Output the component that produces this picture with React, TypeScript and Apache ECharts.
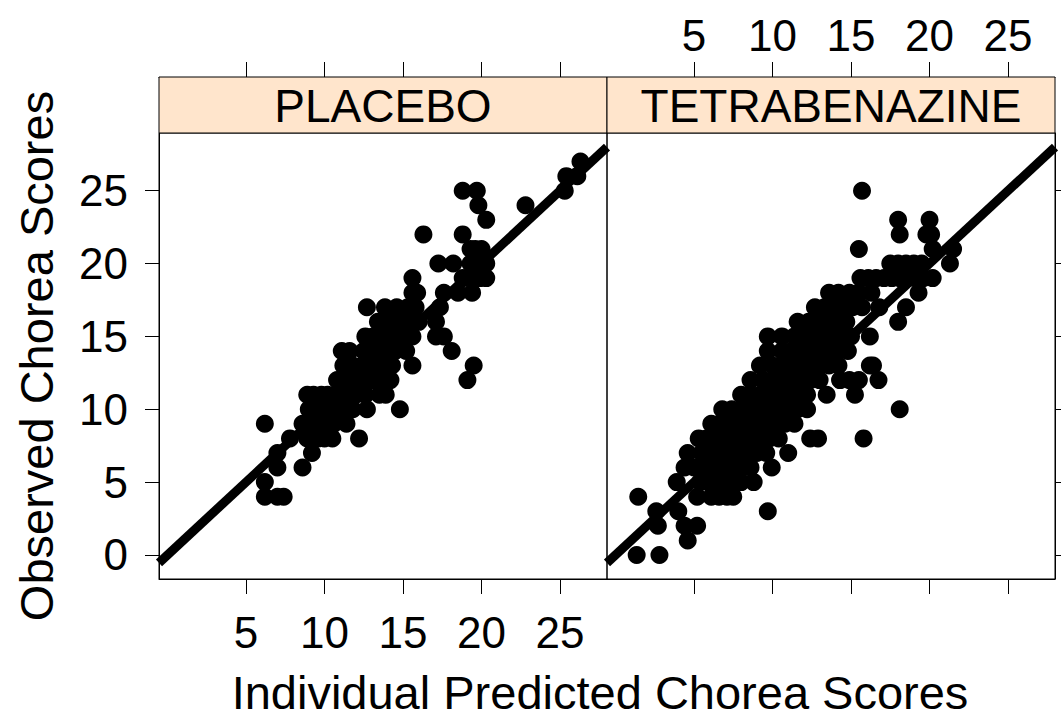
import React, { useEffect, useRef } from "react";
import * as echarts from "echarts";

// Tick positions shared by both panels
const xTicks = [5, 10, 15, 20, 25];
const yTicks = [0, 5, 10, 15, 20, 25];

// Axis limits (lattice-style padded ranges)
const xLimits = [-0.54, 27.99];
const yLimits = [-1.65, 28.96];

const panelNames = ["PLACEBO", "TETRABENAZINE"];

// Line of identity (observed = predicted), spanning the x range
const identityLine: [number, number][] = [
  [xLimits[0], xLimits[0]],
  [xLimits[1], xLimits[1]],
];

// [individual predicted, observed] chorea scores, placebo arm
const placeboPoints: [number, number][] = [
  [6.2, 4], [7.0, 4], [7.4, 4],
  [6.2, 5],
  [7.0, 6], [8.6, 6],
  [7.0, 7], [9.2, 7],
  [7.8, 8], [8.9, 8], [9.6, 8], [10.0, 8], [10.5, 8], [12.2, 8],
  [6.2, 9], [8.6, 9], [9.0, 9], [9.3, 9], [9.8, 9], [10.2, 9], [10.6, 9], [11.4, 9],
  [9.0, 10], [9.4, 10], [9.9, 10], [10.4, 10], [10.9, 10], [11.3, 10], [11.8, 10], [12.7, 10], [14.8, 10],
  [8.9, 11], [9.3, 11], [9.8, 11], [10.2, 11], [10.7, 11], [11.3, 11], [12.0, 11], [12.6, 11], [13.5, 11], [13.9, 11],
  [10.8, 12], [11.5, 12], [12.1, 12], [12.6, 12], [13.0, 12], [13.5, 12], [14.2, 12], [19.1, 12],
  [11.2, 13], [11.8, 13], [12.4, 13], [12.9, 13], [13.4, 13], [13.9, 13], [14.3, 13], [15.6, 13], [19.5, 13],
  [11.1, 14], [11.6, 14], [12.5, 14], [13.0, 14], [13.5, 14], [14.0, 14], [14.5, 14], [15.2, 14], [18.1, 14],
  [12.6, 15], [13.1, 15], [13.6, 15], [14.1, 15], [14.6, 15], [15.1, 15], [15.6, 15], [17.1, 15], [17.6, 15],
  [13.4, 16], [13.9, 16], [14.4, 16], [14.9, 16], [15.4, 16], [16.0, 16], [17.1, 16],
  [12.7, 17], [13.85, 17], [14.6, 17], [15.3, 17], [15.8, 17], [17.35, 17],
  [15.6, 18], [15.9, 18], [17.6, 18], [18.5, 18], [19.4, 18],
  [15.6, 19], [18.8, 19], [19.4, 19], [19.9, 19], [20.3, 19],
  [17.25, 20], [18.2, 20], [19.3, 20], [19.7, 20], [20.3, 20],
  [19.3, 21], [19.6, 21], [20.0, 21],
  [16.3, 22], [18.8, 22],
  [20.3, 23],
  [19.8, 24], [22.8, 24],
  [18.8, 25], [19.7, 25], [25.3, 25],
  [25.4, 26], [26.1, 26],
  [26.3, 27],
];

// [individual predicted, observed] chorea scores, tetrabenazine arm
const tetrabenazinePoints: [number, number][] = [
  [1.35, 0], [2.8, 0],
  [4.6, 1],
  [2.7, 2], [4.4, 2], [5.2, 2],
  [2.6, 3], [4.0, 3], [9.7, 3],
  [1.45, 4], [5.2, 4], [6.1, 4], [6.6, 4], [7.1, 4], [7.5, 4],
  [3.9, 5], [5.4, 5], [5.9, 5], [6.4, 5], [6.9, 5], [7.4, 5], [8.0, 5], [8.8, 5],
  [4.4, 6], [5.0, 6], [5.6, 6], [6.2, 6], [6.8, 6], [7.4, 6], [8.0, 6], [8.6, 6], [9.95, 6],
  [4.6, 7], [5.5, 7], [6.0, 7], [6.6, 7], [7.2, 7], [7.8, 7], [8.4, 7], [9.0, 7], [9.6, 7], [11.0, 7],
  [5.3, 8], [5.8, 8], [6.2, 8], [6.8, 8], [7.4, 8], [8.0, 8], [8.6, 8], [9.2, 8], [9.8, 8], [10.4, 8], [12.4, 8], [12.9, 8], [15.8, 8],
  [6.1, 9], [6.6, 9], [7.2, 9], [7.8, 9], [8.4, 9], [9.0, 9], [9.6, 9], [10.2, 9], [10.8, 9], [11.4, 9],
  [6.8, 10], [7.4, 10], [8.0, 10], [8.6, 10], [9.2, 10], [9.8, 10], [10.4, 10], [11.0, 10], [11.6, 10], [12.2, 10], [18.1, 10],
  [8.0, 11], [8.6, 11], [9.2, 11], [9.8, 11], [10.4, 11], [11.0, 11], [11.6, 11], [12.2, 11], [13.45, 11], [15.25, 11],
  [8.6, 12], [9.4, 12], [10.0, 12], [10.6, 12], [11.2, 12], [11.8, 12], [12.4, 12], [13.0, 12], [14.3, 12], [14.9, 12], [15.5, 12], [16.75, 12],
  [9.2, 13], [10.0, 13], [10.6, 13], [11.2, 13], [11.8, 13], [12.4, 13], [13.0, 13], [13.6, 13], [14.2, 13], [16.2, 13], [16.4, 13],
  [9.7, 14], [10.6, 14], [11.2, 14], [11.8, 14], [12.4, 14], [13.0, 14], [13.6, 14], [14.2, 14], [14.8, 14],
  [9.7, 15], [10.6, 15], [11.4, 15], [12.0, 15], [12.6, 15], [13.2, 15], [13.8, 15], [14.4, 15], [15.0, 15], [16.2, 15],
  [11.6, 16], [12.3, 16], [12.9, 16], [13.5, 16], [14.1, 16], [14.7, 16], [18.0, 16],
  [12.7, 17], [13.3, 17], [13.9, 17], [14.5, 17], [15.1, 17], [15.7, 17], [16.8, 17], [18.5, 17],
  [13.6, 18], [14.2, 18], [14.9, 18], [15.5, 18], [16.3, 18], [19.3, 18],
  [15.6, 19], [16.1, 19], [16.6, 19], [17.1, 19], [17.6, 19], [18.1, 19], [18.6, 19], [19.1, 19], [19.6, 19], [20.2, 19],
  [17.5, 20], [18.0, 20], [18.5, 20], [19.0, 20], [19.5, 20], [21.3, 20],
  [15.5, 21], [20.2, 21], [21.5, 21],
  [18.1, 22], [19.8, 22], [20.1, 22],
  [18.0, 23], [20.0, 23],
  [15.7, 25],
];

const FONT = "'Liberation Sans', Arial, Helvetica, sans-serif";
const PANEL_LEFT = [159, 607];
const PANEL_TOP = 133;
const PANEL_W = 448;
const PANEL_H = 446;
const STRIP_H = 56;

function xAxisFor(gridIndex: number, position: "top" | "bottom", labels: boolean) {
  return {
    type: "value",
    gridIndex,
    position,
    offset: position === "top" ? STRIP_H : 0,
    min: xLimits[0],
    max: xLimits[1],
    axisLine: { show: true, onZero: false, lineStyle: { color: "#000", width: 1 } },
    axisTick: {
      show: true,
      inside: false,
      length: 15,
      customValues: xTicks,
      lineStyle: { color: "#000", width: 1 },
    },
    axisLabel: {
      show: labels,
      customValues: xTicks,
      fontSize: 44,
      fontFamily: FONT,
      color: "#000",
      margin: position === "top" ? 20 : 31,
    },
    splitLine: { show: false },
  };
}

function yAxisFor(gridIndex: number, position: "left" | "right", labels: boolean) {
  return {
    type: "value",
    gridIndex,
    position,
    min: yLimits[0],
    max: yLimits[1],
    axisLine: { show: true, onZero: false, lineStyle: { color: "#000", width: 1 } },
    axisTick: {
      show: true,
      inside: false,
      length: 14,
      customValues: yTicks,
      lineStyle: { color: "#000", width: 1 },
    },
    axisLabel: {
      show: labels,
      customValues: yTicks,
      fontSize: 44,
      fontFamily: FONT,
      color: "#000",
      margin: 31,
    },
    splitLine: { show: false },
  };
}

export default function App() {
  const ref = useRef<HTMLDivElement>(null);

  useEffect(() => {
    if (!ref.current) return;
    const chart = echarts.init(ref.current, undefined, { renderer: "svg" });

    const strips: any[] = [];
    panelNames.forEach((name, i) => {
      strips.push({
        type: "rect",
        shape: { x: PANEL_LEFT[i], y: PANEL_TOP - STRIP_H, width: PANEL_W, height: STRIP_H },
        style: { fill: "#FFE5CC", stroke: "#000", lineWidth: 1 },
        z: 10,
      });
      strips.push({
        type: "text",
        x: PANEL_LEFT[i] + PANEL_W / 2,
        y: PANEL_TOP - STRIP_H / 2 + 1,
        style: {
          text: name,
          fontSize: 46,
          fontFamily: FONT,
          fill: "#000",
          align: "center",
          verticalAlign: "middle",
        },
        z: 11,
      });
    });

    const pointStyle = { color: "#000", opacity: 1 };

    chart.setOption({
      animation: false,
      backgroundColor: "#fff",
      grid: PANEL_LEFT.map((left) => ({
        left,
        top: PANEL_TOP,
        width: PANEL_W,
        height: PANEL_H,
        show: true,
        borderColor: "#000",
        borderWidth: 1,
        backgroundColor: "transparent",
        containLabel: false,
      })),
      xAxis: [
        xAxisFor(0, "bottom", true),
        xAxisFor(0, "top", false),
        xAxisFor(1, "bottom", false),
        xAxisFor(1, "top", true),
      ],
      yAxis: [yAxisFor(0, "left", true), yAxisFor(1, "right", false)],
      series: [
        {
          type: "scatter",
          xAxisIndex: 0,
          yAxisIndex: 0,
          data: placeboPoints,
          symbol: "circle",
          symbolSize: 18,
          itemStyle: pointStyle,
          clip: true,
          z: 2,
        },
        {
          type: "scatter",
          xAxisIndex: 2,
          yAxisIndex: 1,
          data: tetrabenazinePoints,
          symbol: "circle",
          symbolSize: 18,
          itemStyle: pointStyle,
          clip: true,
          z: 2,
        },
        {
          type: "line",
          xAxisIndex: 0,
          yAxisIndex: 0,
          data: identityLine,
          showSymbol: false,
          lineStyle: { color: "#000", width: 9, cap: "butt" },
          clip: true,
          z: 3,
        },
        {
          type: "line",
          xAxisIndex: 2,
          yAxisIndex: 1,
          data: identityLine,
          showSymbol: false,
          lineStyle: { color: "#000", width: 9, cap: "butt" },
          clip: true,
          z: 3,
        },
      ],
      graphic: [
        ...strips,
        {
          type: "text",
          x: 600,
          y: 692,
          style: {
            text: "Individual Predicted Chorea Scores",
            fontSize: 47,
            fontFamily: FONT,
            fill: "#000",
            align: "center",
            verticalAlign: "middle",
          },
        },
        {
          type: "text",
          x: 36,
          y: 356,
          rotation: Math.PI / 2,
          style: {
            text: "Observed Chorea Scores",
            fontSize: 47,
            fontFamily: FONT,
            fill: "#000",
            align: "center",
            verticalAlign: "middle",
          },
        },
      ],
    });

    return () => chart.dispose();
  }, []);

  return (
    <div
      ref={ref}
      style={{ position: "absolute", left: 0, top: 0, width: 1061, height: 719 }}
    />
  );
}
